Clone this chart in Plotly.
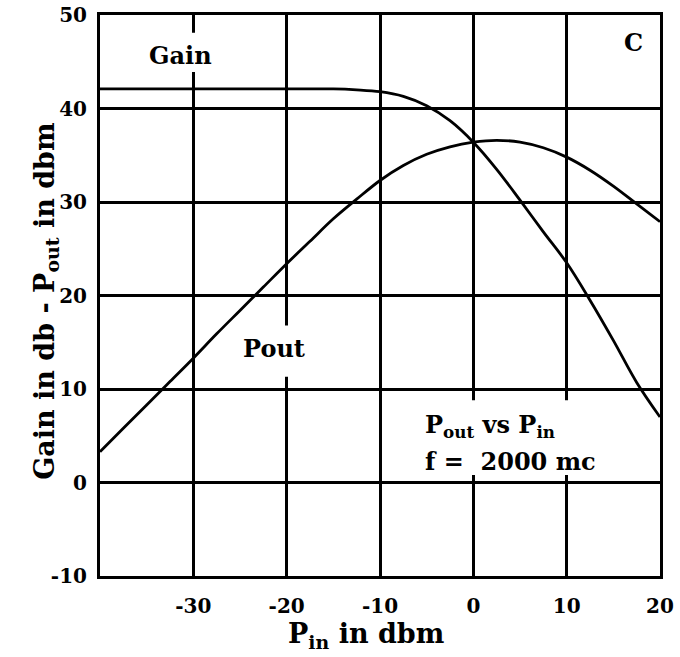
import plotly.graph_objects as go

# Data
pin = [-40, -37.5, -35, -32.5, -30, -27.5, -25, -22.5, -20, -17.5, -15, -12.5,
       -10, -7.5, -5, -2.5, 0, 2.5, 5, 7.5, 10, 12.5, 15, 17.5, 20]
gain_db = [42.1, 42.1, 42.1, 42.1, 42.1, 42.1, 42.1, 42.1, 42.1, 42.1, 42.1, 42.0,
           41.8, 41.3, 40.3, 38.7, 36.4, 33.5, 30.2, 26.8, 23.5, 19.5, 15.2, 10.7, 7.0]
pout_dbm = [3.3, 5.8, 8.3, 10.8, 13.3, 15.9, 18.4, 20.9, 23.4, 25.8, 28.2, 30.3,
            32.3, 33.9, 35.1, 35.9, 36.4, 36.6, 36.4, 35.8, 34.8, 33.4, 31.7, 29.8, 27.9]

x_ticks = [-30, -20, -10, 0, 10, 20]
x_ticktext = ["-30", "-20", "-10", "0", "10", "20"]
y_ticks = [-10, 0, 10, 20, 30, 40, 50]
y_ticktext = ["-10", "0", "10", "20", "30", "40", "50"]

FONT = "DejaVu Serif"

fig = go.Figure()
fig.add_trace(go.Scatter(x=pin, y=gain_db, mode="lines",
                         line=dict(color="black", width=2.8, shape="spline", smoothing=1.0),
                         showlegend=False, name="Gain"))
fig.add_trace(go.Scatter(x=pin, y=pout_dbm, mode="lines",
                         line=dict(color="black", width=2.8, shape="spline", smoothing=1.0),
                         showlegend=False, name="Pout"))

# white label boxes that interrupt grid lines
for (x0, x1, y0, y1) in [(-35.6, -27.2, 43.9, 48.1), (-25.5, -17.3, 11.3, 16.8), (-5.9, 16.3, 0.8, 8.8)]:
    fig.add_shape(type="rect", x0=x0, x1=x1, y0=y0, y1=y1, xref="x", yref="y",
                  fillcolor="white", line=dict(width=0), layer="between")

ann_font = dict(family=FONT, size=24, color="black", weight="bold")
fig.add_annotation(x=-31.4, y=45.7, text="Gain", showarrow=False, font=ann_font)
fig.add_annotation(x=17.2, y=47.1, text="C", showarrow=False, font=ann_font)
fig.add_annotation(x=-21.4, y=14.3, text="Pout", showarrow=False, font=ann_font)
fig.add_annotation(x=-5.4, y=6.0, text="P<sub>out</sub> vs P<sub>in</sub>", showarrow=False,
                   xanchor="left", font=ann_font)
fig.add_annotation(x=-5.4, y=2.3, text="f =  2000 mc", showarrow=False,
                   xanchor="left", font=ann_font)

# axis titles
fig.add_annotation(xref="paper", yref="paper", x=0.475, y=-0.072, text="P<sub>in</sub> in dbm",
                   showarrow=False, xanchor="center", yanchor="top",
                   font=dict(family=FONT, size=27, color="black", weight="bold"))
fig.add_annotation(xref="paper", yref="paper", x=-0.097, y=0.49,
                   text="Gain in db - P<sub>out</sub> in dbm", textangle=-90,
                   showarrow=False, xanchor="center", yanchor="middle",
                   font=dict(family=FONT, size=27, color="black", weight="bold"))

axis_common = dict(showline=True, mirror=True, linecolor="black", linewidth=3,
                   showgrid=True, gridcolor="black", gridwidth=2.5,
                   zeroline=True, zerolinecolor="black", zerolinewidth=2.5,
                   ticks="", automargin=False,
                   tickfont=dict(family=FONT, size=20, color="black", weight="bold"))

fig.update_xaxes(range=[-40, 20], tickvals=x_ticks, ticktext=x_ticktext,
                 ticklabelstandoff=10, **axis_common)
fig.update_yaxes(range=[-10, 50], tickvals=y_ticks, ticktext=y_ticktext,
                 ticklabelstandoff=6, **axis_common)

fig.update_layout(width=680, height=657, margin=dict(l=100, r=20, t=15, b=81),
                  plot_bgcolor="white", paper_bgcolor="white",
                  font=dict(family=FONT, color="black"))

fig.write_html("out.html", config={"displayModeBar": False},
               post_script="document.body.style.margin='0';")
